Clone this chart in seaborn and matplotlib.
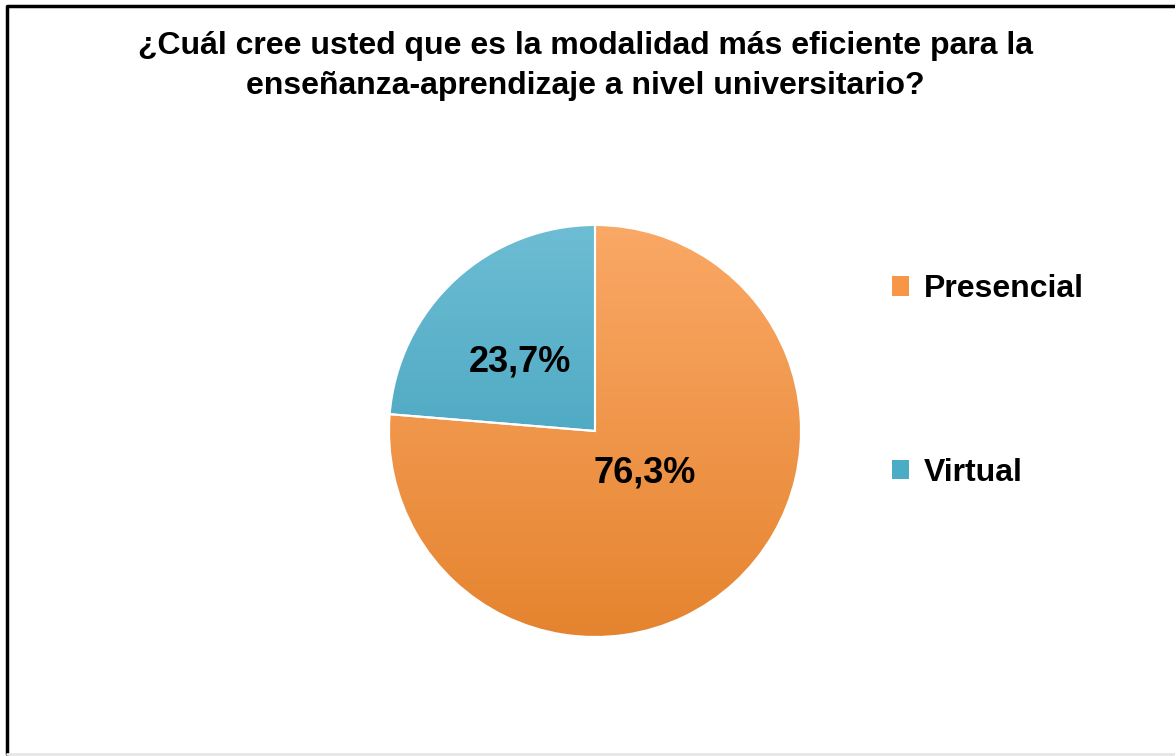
import matplotlib
matplotlib.use("Agg")
import matplotlib.pyplot as plt
import seaborn as sns
import numpy as np
from matplotlib.colors import LinearSegmentedColormap
from matplotlib.patches import Patch
from matplotlib.lines import Line2D

categories = ["Presencial", "Virtual"]
values = [76.3, 23.7]
labels_text = ["76,3%", "23,7%"]
title = "¿Cuál cree usted que es la modalidad más eficiente para la\nenseñanza-aprendizaje a nivel universitario?"

sns.set_theme(style="white")
plt.rcParams['font.family'] = ['Liberation Sans', 'DejaVu Sans']
plt.rcParams['text.color'] = 'black'

W, H = 1175, 756
fig = plt.figure(figsize=(W / 100, H / 100), dpi=100)
fig.patch.set_facecolor("white")

cx, cy, r = 595, 431, 206
ax = fig.add_axes([(cx - r) / W, (H - cy - r) / H, 2 * r / W, 2 * r / H])

base_colors = ["#F79646", "#4BACC6"]
grad = [("#FAA866", "#E5842F"), ("#6DBDD4", "#3598B4")]

wedges, _ = ax.pie(values, colors=base_colors, startangle=90, counterclock=False,
                   radius=1, wedgeprops=dict(edgecolor="white", linewidth=1.5))
ax.set_xlim(-1.0, 1.0)
ax.set_ylim(-1.0, 1.0)
ax.set_aspect("equal")
ax.axis("off")

# vertical gradient fill clipped to each wedge
g = np.linspace(0, 1, 256).reshape(-1, 1)
for w, (top, bot) in zip(wedges, grad):
    cmap = LinearSegmentedColormap.from_list("g", [top, bot])
    im = ax.imshow(g, cmap=cmap, extent=[-1, 1, -1, 1], origin="upper",
                   aspect="auto", zorder=w.get_zorder() + 0.1)
    im.set_clip_path(w)
    w.set_zorder(w.get_zorder() + 0.2)
    w.set_facecolor("none")

label_pos = [(0.243, -0.205), (-0.364, 0.335)]
for txt, (x, y) in zip(labels_text, label_pos):
    ax.text(x, y, txt, ha="center", va="center", fontsize=26, color="black",
            fontweight="bold", zorder=10)

handles = [Patch(facecolor=c, edgecolor="none") for c in base_colors]
fig.legend(handles, categories, loc="center left",
           bbox_to_anchor=(863 / W, (H - 381) / H), frameon=False,
           prop=dict(size=23, weight="bold"), labelspacing=4.8,
           handlelength=0.55, handleheight=0.55, handletextpad=0.45,
           labelcolor="black")

fig.text(585 / W, (H - 66) / H, title, ha="center", va="center",
         fontsize=23, fontweight="bold", color="black", linespacing=1.42)

# frame
fig.add_artist(Line2D([7 / W, 7 / W, 1], [1 - 754 / H, 1 - 6 / H, 1 - 6 / H],
                      transform=fig.transFigure, color="black", lw=2.5))
fig.add_artist(Line2D([7 / W, 1], [1 - 754 / H, 1 - 754 / H],
                      transform=fig.transFigure, color="#E6E6E6", lw=2))

fig.savefig("out.png", dpi=100, facecolor="white")
